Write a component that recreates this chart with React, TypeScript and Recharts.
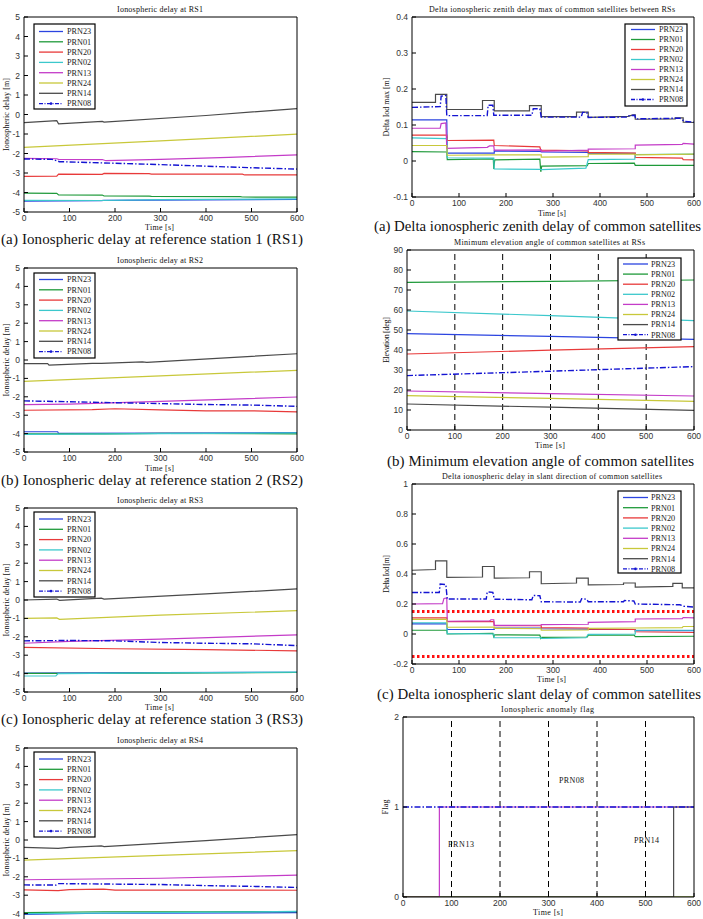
import React from 'react';
import { LineChart, Line, XAxis, YAxis, ReferenceLine } from 'recharts';

type Pts = [number, number][];

const PRN = ['PRN23', 'PRN01', 'PRN20', 'PRN02', 'PRN13', 'PRN24', 'PRN14', 'PRN08'];
const COLOR: Record<string, string> = {
  PRN23: '#2b44e0',
  PRN01: '#1f9a3a',
  PRN20: '#e83a3a',
  PRN02: '#3cc8cc',
  PRN13: '#c43cc8',
  PRN24: '#c8c83a',
  PRN14: '#4a4a4a',
  PRN08: '#1414d2',
};

const TIME_TICKS = [0, 100, 200, 300, 400, 500, 600];
const DELAY_TICKS = [-5, -4, -3, -2, -1, 0, 1, 2, 3, 4, 5];
const DELAY_TICKS_CUT = [-4, -3, -2, -1, 0, 1, 2, 3, 4, 5];
const ZENITH_TICKS = [-0.1, 0, 0.1, 0.2, 0.3, 0.4];
const ELEV_TICKS = [0, 10, 20, 30, 40, 50, 60, 70, 80, 90];
const SLANT_TICKS = [-0.2, 0, 0.2, 0.4, 0.6, 0.8, 1];
const FLAG_TICKS = [0, 1, 2];
const GRID_LINES = [100, 200, 300, 400, 500];
const THRESHOLDS = [0.15, -0.15];

// Ionospheric delay at RS1 [m]
const RS1: Record<string, Pts> = {
  PRN23: [[0, -4.44], [170, -4.42], [175, -4.4], [600, -4.36]],
  PRN01: [[0, -4.03], [72, -4.04], [76, -4.12], [172, -4.13], [176, -4.18], [275, -4.19], [280, -4.2], [475, -4.21], [480, -4.23], [600, -4.24]],
  PRN20: [[0, -3.17], [72, -3.16], [76, -3.06], [172, -3.07], [176, -3.02], [275, -3.03], [280, -3.06], [480, -3.06], [485, -3.1], [600, -3.1]],
  PRN02: [[0, -4.4], [170, -4.41], [300, -4.37], [600, -4.33]],
  PRN13: [[0, -2.25], [72, -2.27], [76, -2.3], [172, -2.31], [180, -2.37], [300, -2.3], [450, -2.2], [600, -2.07]],
  PRN24: [[0, -1.69], [300, -1.35], [600, -1.01]],
  PRN14: [[0, -0.42], [72, -0.32], [76, -0.48], [172, -0.35], [176, -0.39], [400, -0.05], [600, 0.3]],
  PRN08: [[0, -2.28], [62, -2.3], [78, -2.42], [200, -2.5], [300, -2.57], [400, -2.65], [500, -2.73], [600, -2.8]],
};

// Ionospheric delay at RS2 [m]
const RS2: Record<string, Pts> = {
  PRN23: [[0, -3.9], [74, -3.9], [76, -3.99], [300, -3.97], [600, -3.95]],
  PRN01: [[0, -4.02], [175, -4.01], [300, -3.99], [600, -4.01]],
  PRN20: [[0, -2.73], [150, -2.7], [200, -2.65], [300, -2.71], [400, -2.76], [500, -2.76], [600, -2.82]],
  PRN02: [[0, -4.04], [300, -4.0], [600, -3.96]],
  PRN13: [[0, -2.43], [100, -2.4], [300, -2.25], [600, -2.01]],
  PRN24: [[0, -1.16], [300, -0.86], [600, -0.56]],
  PRN14: [[0, -0.2], [52, -0.2], [55, -0.28], [150, -0.18], [170, -0.18], [260, -0.1], [270, -0.13], [600, 0.34]],
  PRN08: [[0, -2.22], [100, -2.27], [200, -2.32], [300, -2.37], [400, -2.42], [500, -2.45], [600, -2.52]],
};

// Ionospheric delay at RS3 [m]
const RS3: Record<string, Pts> = {
  PRN23: [[0, -3.97], [300, -3.95], [600, -3.93]],
  PRN01: [[0, -3.99], [175, -3.99], [600, -3.94]],
  PRN20: [[0, -2.58], [200, -2.65], [400, -2.7], [600, -2.76]],
  PRN02: [[0, -4.13], [70, -4.12], [75, -4.0], [300, -3.96], [600, -3.92]],
  PRN13: [[0, -2.35], [100, -2.25], [300, -2.13], [600, -1.89]],
  PRN24: [[0, -1.0], [72, -0.97], [78, -1.05], [300, -0.82], [600, -0.58]],
  PRN14: [[0, 0.0], [72, 0.05], [78, -0.02], [170, 0.1], [176, 0.05], [400, 0.33], [600, 0.6]],
  PRN08: [[0, -2.22], [100, -2.2], [200, -2.22], [300, -2.31], [400, -2.35], [500, -2.38], [600, -2.48]],
};

// Ionospheric delay at RS4 [m]
const RS4: Record<string, Pts> = {
  PRN23: [[0, -4.04], [170, -3.98], [300, -3.97], [600, -3.95]],
  PRN01: [[0, -3.95], [175, -3.9], [400, -3.9], [600, -3.89]],
  PRN20: [[0, -2.71], [50, -2.74], [75, -2.75], [100, -2.7], [175, -2.67], [200, -2.72], [500, -2.72], [600, -2.73]],
  PRN02: [[0, -4.0], [300, -3.95], [600, -3.88]],
  PRN13: [[0, -2.16], [300, -2.08], [600, -1.91]],
  PRN24: [[0, -1.09], [300, -0.84], [600, -0.58]],
  PRN14: [[0, -0.4], [75, -0.45], [100, -0.4], [170, -0.32], [176, -0.36], [400, -0.03], [600, 0.29]],
  PRN08: [[0, -2.44], [70, -2.45], [76, -2.37], [300, -2.42], [400, -2.48], [500, -2.52], [600, -2.58]],
};

// Delta ionospheric zenith delay max [m]
const ZENITH: Record<string, Pts> = {
  PRN23: [[0, 0.114], [74, 0.114], [75, 0.022], [175, 0.022], [175, 0.028], [275, 0.027], [275, 0.025], [375, 0.024], [375, 0.021], [475, 0.021], [475, 0.018], [600, 0.018]],
  PRN01: [[0, 0.026], [74, 0.025], [75, 0.004], [173, 0.006], [174, -0.022], [176, 0.003], [272, 0.005], [274, -0.03], [276, -0.014], [373, -0.013], [375, -0.007], [473, -0.006], [475, -0.012], [600, -0.012]],
  PRN20: [[0, 0.072], [74, 0.072], [75, 0.057], [174, 0.058], [175, 0.043], [272, 0.039], [274, 0.03], [375, 0.028], [375, 0.024], [475, 0.022], [475, 0.01], [575, 0.008], [577, 0.004], [600, 0.003]],
  PRN02: [[0, 0.064], [74, 0.062], [75, 0.009], [174, 0.008], [175, -0.022], [274, -0.023], [275, -0.024], [370, -0.02], [375, 0.004], [474, 0.005], [475, 0.018], [600, 0.019]],
  PRN13: [[0, 0.091], [60, 0.091], [62, 0.104], [72, 0.106], [74, 0.035], [160, 0.038], [165, 0.042], [174, 0.042], [175, 0.03], [275, 0.031], [275, 0.027], [375, 0.03], [375, 0.033], [475, 0.034], [475, 0.044], [575, 0.046], [577, 0.049], [600, 0.047]],
  PRN24: [[0, 0.043], [74, 0.043], [75, 0.016], [175, 0.017], [275, 0.017], [275, 0.011], [375, 0.012], [375, 0.019], [475, 0.019], [475, 0.017], [600, 0.019]],
  PRN14: [[0, 0.163], [50, 0.163], [50, 0.185], [74, 0.185], [74, 0.143], [150, 0.143], [150, 0.168], [175, 0.168], [175, 0.139], [250, 0.139], [250, 0.154], [275, 0.154], [275, 0.123], [350, 0.123], [350, 0.136], [375, 0.136], [375, 0.121], [460, 0.124], [470, 0.128], [475, 0.128], [475, 0.116], [560, 0.117], [560, 0.12], [577, 0.12], [577, 0.108], [600, 0.107]],
  PRN08: [[0, 0.149], [60, 0.151], [62, 0.18], [72, 0.182], [74, 0.126], [160, 0.126], [162, 0.155], [172, 0.155], [174, 0.127], [255, 0.127], [258, 0.145], [272, 0.145], [275, 0.122], [360, 0.122], [363, 0.135], [372, 0.135], [375, 0.121], [460, 0.122], [462, 0.126], [474, 0.127], [476, 0.117], [570, 0.119], [580, 0.11], [600, 0.108]],
};

// Minimum elevation angle [deg]
const ELEVATION: Record<string, Pts> = {
  PRN23: [[0, 48.2], [300, 46.8], [600, 45.3]],
  PRN01: [[0, 73.8], [300, 74.3], [600, 75.0]],
  PRN20: [[0, 38.0], [300, 39.9], [600, 41.7]],
  PRN02: [[0, 59.5], [300, 57.2], [600, 54.7]],
  PRN13: [[0, 19.5], [300, 18.2], [600, 17.0]],
  PRN24: [[0, 17.2], [300, 15.8], [600, 14.3]],
  PRN14: [[0, 13.0], [300, 11.4], [600, 9.8]],
  PRN08: [[0, 27.2], [300, 29.4], [600, 31.7]],
};

// Delta ionospheric slant delay [m]
const SLANT: Record<string, Pts> = {
  PRN23: [[0, 0.068], [74, 0.068], [75, 0.03], [175, 0.03], [175, 0.04], [275, 0.04], [275, 0.035], [375, 0.032], [375, 0.03], [475, 0.03], [475, 0.022], [600, 0.022]],
  PRN01: [[0, 0.025], [74, 0.025], [75, 0.0], [172, 0.005], [174, -0.018], [176, -0.005], [272, -0.008], [274, -0.03], [276, -0.022], [373, -0.02], [375, -0.008], [473, -0.008], [475, -0.018], [600, -0.015]],
  PRN20: [[0, 0.108], [74, 0.108], [75, 0.082], [174, 0.083], [175, 0.055], [275, 0.055], [275, 0.043], [375, 0.04], [375, 0.033], [475, 0.03], [475, 0.015], [600, 0.01]],
  PRN02: [[0, 0.075], [74, 0.074], [75, 0.002], [174, 0.0], [175, -0.025], [275, -0.025], [275, -0.03], [370, -0.025], [375, -0.003], [475, 0.0], [475, 0.025], [600, 0.025]],
  PRN13: [[0, 0.2], [65, 0.203], [68, 0.237], [74, 0.24], [75, 0.085], [165, 0.087], [168, 0.095], [174, 0.095], [175, 0.057], [275, 0.06], [275, 0.062], [375, 0.065], [375, 0.077], [475, 0.082], [475, 0.1], [575, 0.102], [577, 0.11], [600, 0.108]],
  PRN24: [[0, 0.098], [74, 0.098], [75, 0.045], [175, 0.046], [175, 0.038], [275, 0.035], [275, 0.025], [375, 0.027], [375, 0.037], [475, 0.04], [575, 0.042], [577, 0.05], [600, 0.05]],
  PRN14: [[0, 0.425], [50, 0.43], [50, 0.488], [74, 0.488], [74, 0.378], [150, 0.38], [150, 0.45], [175, 0.45], [175, 0.372], [250, 0.375], [250, 0.415], [275, 0.415], [275, 0.335], [350, 0.34], [350, 0.372], [375, 0.372], [375, 0.327], [450, 0.33], [450, 0.34], [475, 0.34], [475, 0.313], [555, 0.318], [555, 0.337], [575, 0.337], [575, 0.308], [600, 0.307]],
  PRN08: [[0, 0.277], [58, 0.277], [60, 0.333], [72, 0.33], [75, 0.233], [158, 0.233], [160, 0.28], [172, 0.278], [175, 0.232], [255, 0.228], [258, 0.257], [272, 0.255], [275, 0.215], [358, 0.213], [361, 0.235], [372, 0.232], [375, 0.215], [450, 0.215], [452, 0.223], [472, 0.22], [475, 0.2], [570, 0.195], [578, 0.185], [600, 0.18]],
};

// Ionospheric anomaly flag
const FLAG: Record<string, Pts> = {
  PRN23: [[0, 0], [600, 0]],
  PRN01: [[0, 0], [600, 0]],
  PRN20: [[0, 0], [600, 0]],
  PRN02: [[0, 0], [600, 0]],
  PRN13: [[0, 0], [75, 0], [75, 1], [600, 1]],
  PRN24: [[0, 0], [600, 0]],
  PRN14: [[0, 0], [558, 0], [558, 1], [600, 1]],
  PRN08: [[0, 1], [600, 1]],
};

const SERIF = "'Liberation Serif', 'DejaVu Serif', serif";
const SANS = "'Liberation Sans', Arial, sans-serif";

type Box = { x: number; y: number; w: number; h: number };

const toRows = (p: Pts) => p.map(([t, v]) => ({ t, v }));

function Panel(props: {
  box: Box;
  domain: [number, number];
  ticks: number[];
  series: Record<string, Pts>;
  vlines?: number[];
  hlines?: number[];
  hideXLabels?: boolean;
}) {
  const { box, domain, ticks, series, vlines, hlines, hideXLabels } = props;
  const L = 30, T = 8, R = 12, B = 22;
  const tickStyle = { fontSize: 8.5, fill: '#333', fontFamily: SANS };
  return (
    <div style={{ position: 'absolute', left: box.x - L, top: box.y - T }}>
      <LineChart
        width={box.w + L + R}
        height={box.h + T + B}
        margin={{ top: T - 1, right: R - 1, left: 0, bottom: 0 }}
      >
        <XAxis
          dataKey="t"
          type="number"
          domain={[0, 600]}
          ticks={TIME_TICKS}
          interval={0}
          allowDataOverflow
          height={B}
          tickSize={-4}
          tickMargin={7}
          stroke="#000"
          tick={hideXLabels ? false : tickStyle}
        />
        <XAxis
          xAxisId="top"
          orientation="top"
          dataKey="t"
          type="number"
          domain={[0, 600]}
          ticks={TIME_TICKS}
          interval={0}
          allowDataOverflow
          height={1}
          tickSize={-4}
          stroke="#000"
          tick={false}
        />
        <YAxis
          type="number"
          domain={domain}
          ticks={ticks}
          interval={0}
          allowDataOverflow
          width={L}
          tickSize={-4}
          tickMargin={8}
          stroke="#000"
          tick={tickStyle}
        />
        <YAxis
          yAxisId="r"
          orientation="right"
          type="number"
          domain={domain}
          ticks={ticks}
          interval={0}
          allowDataOverflow
          width={1}
          tickSize={-4}
          stroke="#000"
          tick={false}
        />
        {(vlines || []).map((x) => (
          <ReferenceLine key={'v' + x} x={x} stroke="#000" strokeDasharray="6 4" strokeWidth={1} />
        ))}
        {(hlines || []).map((y) => (
          <ReferenceLine key={'h' + y} y={y} stroke="#ff1010" strokeDasharray="2.5 2.5" strokeWidth={3} />
        ))}
        {PRN.map((k) => (
          <Line
            key={k}
            data={toRows(series[k])}
            dataKey="v"
            type="linear"
            stroke={COLOR[k]}
            strokeWidth={k === 'PRN08' ? 1.4 : 1.2}
            strokeDasharray={k === 'PRN08' ? '6 2 1.5 2' : undefined}
            dot={false}
            activeDot={false}
            isAnimationActive={false}
          />
        ))}
      </LineChart>
    </div>
  );
}

function Legend(props: { x: number; y: number; w: number; h: number; first: number; step: number; s1: number; s2: number; tx: number }) {
  const { x, y, w, h, first, step, s1, s2, tx } = props;
  return (
    <g>
      <rect x={x} y={y} width={w} height={h} fill="#fff" stroke="#000" strokeWidth={1.2} />
      {PRN.map((k, i) => {
        const cy = first + i * step;
        return (
          <g key={k}>
            <line
              x1={s1}
              x2={s2}
              y1={cy}
              y2={cy}
              stroke={COLOR[k]}
              strokeWidth={1.3}
              strokeDasharray={k === 'PRN08' ? '4 1.5 1 1.5' : undefined}
            />
            {k === 'PRN08' && <circle cx={(s1 + s2) / 2} cy={cy} r={1.3} fill={COLOR[k]} />}
            <text x={tx} y={cy + 2.8} fontSize={8.2} fontFamily={SERIF} fill="#222">
              {k}
            </text>
          </g>
        );
      })}
    </g>
  );
}

function T(props: { x: number; y: number; len?: number; size: number; children: string; anchor?: string; rot?: boolean; fill?: string }) {
  const { x, y, len, size, children, anchor, rot, fill } = props;
  return (
    <text
      x={x}
      y={y}
      fontSize={size}
      fontFamily={SERIF}
      fill={fill || '#111'}
      textAnchor={anchor || 'start'}
      textLength={len}
      lengthAdjust={len ? 'spacing' : undefined}
      transform={rot ? `rotate(-90 ${x} ${y})` : undefined}
    >
      {children}
    </text>
  );
}

const BOX_RS1: Box = { x: 24, y: 17, w: 273, h: 195 };
const BOX_RS2: Box = { x: 24, y: 268, w: 273, h: 184 };
const BOX_RS3: Box = { x: 24, y: 508, w: 273, h: 184 };
const BOX_RS4: Box = { x: 24, y: 748, w: 273, h: 184 };
const BOX_A: Box = { x: 412, y: 17, w: 282, h: 180 };
const BOX_B: Box = { x: 407, y: 250, w: 287, h: 180 };
const BOX_C: Box = { x: 412, y: 484, w: 282, h: 180 };
const BOX_D: Box = { x: 403, y: 717, w: 291, h: 180 };

export default function App() {
  return (
    <div
      style={{
        position: 'absolute',
        left: 0,
        top: 0,
        width: 703,
        height: 919,
        overflow: 'hidden',
        background: '#fff',
      }}
    >
      <Panel box={BOX_RS1} domain={[-5, 5]} ticks={DELAY_TICKS} series={RS1} />
      <Panel box={BOX_RS2} domain={[-5, 5]} ticks={DELAY_TICKS} series={RS2} />
      <Panel box={BOX_RS3} domain={[-5, 5]} ticks={DELAY_TICKS} series={RS3} />
      <Panel box={BOX_RS4} domain={[-5, 5]} ticks={DELAY_TICKS_CUT} series={RS4} hideXLabels />
      <Panel box={BOX_A} domain={[-0.1, 0.4]} ticks={ZENITH_TICKS} series={ZENITH} />
      <Panel box={BOX_B} domain={[0, 90]} ticks={ELEV_TICKS} series={ELEVATION} vlines={GRID_LINES} />
      <Panel box={BOX_C} domain={[-0.2, 1]} ticks={SLANT_TICKS} series={SLANT} hlines={THRESHOLDS} />
      <Panel box={BOX_D} domain={[0, 2]} ticks={FLAG_TICKS} series={FLAG} vlines={GRID_LINES} />

      <svg width={703} height={919} style={{ position: 'absolute', left: 0, top: 0, pointerEvents: 'none' }}>
        {/* titles */}
        <T x={117} y={11.5} len={86} size={8}>Ionospheric delay at RS1</T>
        <T x={117} y={263} len={86} size={8}>Ionospheric delay at RS2</T>
        <T x={117} y={503} len={86} size={8}>Ionospheric delay at RS3</T>
        <T x={117} y={743} len={86} size={8}>Ionospheric delay at RS4</T>
        <T x={429} y={11.5} len={246} size={8}>Delta ionospheric zenith delay max of common satellites between RSs</T>
        <T x={454} y={245} len={191} size={8}>Minimum elevation angle of common satellites at RSs</T>
        <T x={442} y={479} len={220} size={8}>Delta ionospheric delay in slant direction of common satellites</T>
        <T x={501} y={712} len={93} size={8}>Ionospheric anomaly flag</T>

        {/* x-axis labels */}
        <T x={145} y={230} len={29} size={8}>Time [s]</T>
        <T x={145} y={471} len={29} size={8}>Time [s]</T>
        <T x={145} y={710} len={29} size={8}>Time [s]</T>
        <T x={538} y={216} len={28} size={8}>Time [s]</T>
        <T x={535} y={448} len={30} size={8}>Time [s]</T>
        <T x={537} y={682} len={29} size={8}>Time [s]</T>
        <T x={533} y={915} len={30} size={8}>Time [s]</T>

        {/* y-axis labels */}
        <T x={9} y={114.5} len={73} size={8} anchor="middle" rot>Ionospheric delay [m]</T>
        <T x={9} y={360} len={73} size={8} anchor="middle" rot>Ionospheric delay [m]</T>
        <T x={9} y={600} len={73} size={8} anchor="middle" rot>Ionospheric delay [m]</T>
        <T x={9} y={840} len={73} size={8} anchor="middle" rot>Ionospheric delay [m]</T>
        <T x={389} y={107} len={59} size={8} anchor="middle" rot>Delta Iod max [m]</T>
        <T x={389} y={340} len={46} size={8} anchor="middle" rot>Elevation [deg]</T>
        <T x={389} y={574} len={38} size={8} anchor="middle" rot>Delta Iod [m]</T>
        <T x={388} y={807} len={15} size={8} anchor="middle" rot>Flag</T>

        {/* captions */}
        <T x={1} y={244} len={302} size={15}>(a) Ionospheric delay at reference station 1 (RS1)</T>
        <T x={1} y={485} len={302} size={15}>(b) Ionospheric delay at reference station 2 (RS2)</T>
        <T x={1} y={724} len={302} size={15}>(c) Ionospheric delay at reference station 3 (RS3)</T>
        <T x={374} y={231} len={327} size={14.8}>(a) Delta ionospheric zenith delay of common satellites</T>
        <T x={387} y={466} len={307} size={15}>(b) Minimum elevation angle of common satellites</T>
        <T x={377} y={699} len={324} size={14.8}>(c) Delta ionospheric slant delay of common satellites</T>

        {/* flag annotations */}
        <T x={559} y={783} len={25} size={8}>PRN08</T>
        <T x={448} y={847} len={26} size={8}>PRN13</T>
        <T x={634} y={843} len={25} size={8}>PRN14</T>

        {/* legends */}
        <Legend x={34} y={24} w={61} h={85} first={31.5} step={10.3} s1={39} s2={63} tx={67} />
        <Legend x={34} y={273} w={61} h={85} first={279.5} step={10.3} s1={39} s2={63} tx={67} />
        <Legend x={34} y={512} w={61} h={85} first={519} step={10.3} s1={39} s2={63} tx={67} />
        <Legend x={34} y={752} w={61} h={85} first={759} step={10.3} s1={39} s2={63} tx={67} />
        <Legend x={625} y={24} w={62} h={82} first={29.5} step={10} s1={631} s2={655} tx={659} />
        <Legend x={618} y={258} w={63} h={82} first={264} step={10.1} s1={623} s2={648} tx={651} />
        <Legend x={618} y={491} w={63} h={82} first={497.5} step={10.2} s1={623} s2={648} tx={651} />
      </svg>
    </div>
  );
}
